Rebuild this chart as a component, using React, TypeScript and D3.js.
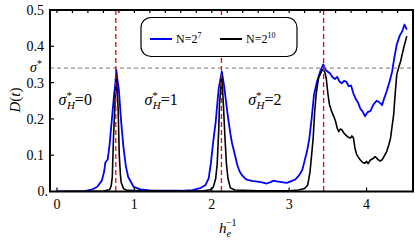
import * as d3 from "d3";

// h_e^{-1} and D(t)
const hBlue = [0, 0.35, 0.45, 0.52, 0.58, 0.61, 0.625, 0.655, 0.68, 0.71, 0.735, 0.755, 0.767, 0.78, 0.8, 0.83, 0.86, 0.89, 0.92, 0.99, 1.08, 1.2, 1.6, 1.75, 1.85, 1.92, 1.96, 1.99, 2.02, 2.05, 2.09, 2.13, 2.16, 2.18, 2.2, 2.22, 2.24, 2.26, 2.3, 2.33, 2.36, 2.39, 2.43, 2.46, 2.52, 2.59, 2.65, 2.71, 2.76, 2.8, 2.84, 2.9, 2.97, 3.02, 3.08, 3.13, 3.17, 3.2, 3.23, 3.26, 3.29, 3.32, 3.36, 3.4, 3.44, 3.47, 3.5, 3.53, 3.56, 3.59, 3.62, 3.65, 3.68, 3.71, 3.74, 3.77, 3.8, 3.83, 3.86, 3.89, 3.92, 3.95, 3.98, 4.01, 4.05, 4.09, 4.13, 4.17, 4.2, 4.23, 4.26, 4.3, 4.33, 4.36, 4.39, 4.43, 4.46, 4.49, 4.52];
const dBlue = [0, 0.001, 0.005, 0.013, 0.03, 0.055, 0.08, 0.088, 0.13, 0.2, 0.26, 0.3, 0.335, 0.31, 0.28, 0.19, 0.12, 0.07, 0.04, 0.013, 0.006, 0.003, 0.002, 0.004, 0.009, 0.018, 0.036, 0.08, 0.14, 0.19, 0.285, 0.33, 0.29, 0.255, 0.22, 0.19, 0.16, 0.135, 0.1, 0.073, 0.055, 0.045, 0.036, 0.032, 0.029, 0.027, 0.025, 0.022, 0.026, 0.03, 0.028, 0.026, 0.024, 0.028, 0.033, 0.045, 0.06, 0.085, 0.11, 0.145, 0.2, 0.265, 0.303, 0.33, 0.35, 0.335, 0.33, 0.325, 0.315, 0.31, 0.316, 0.303, 0.298, 0.305, 0.302, 0.29, 0.292, 0.27, 0.255, 0.245, 0.228, 0.22, 0.207, 0.218, 0.222, 0.24, 0.25, 0.245, 0.238, 0.258, 0.276, 0.305, 0.33, 0.37, 0.405, 0.43, 0.441, 0.46, 0.446];

const hBlack = [0, 0.6, 0.68, 0.7, 0.715, 0.73, 0.745, 0.755, 0.767, 0.78, 0.79, 0.805, 0.82, 0.83, 0.86, 0.9, 1.2, 1.9, 1.98, 2.02, 2.05, 2.07, 2.09, 2.1, 2.13, 2.15, 2.17, 2.19, 2.21, 2.24, 2.3, 2.6, 3.0, 3.12, 3.2, 3.24, 3.27, 3.29, 3.31, 3.33, 3.35, 3.38, 3.43, 3.46, 3.48, 3.5, 3.52, 3.55, 3.58, 3.6, 3.62, 3.64, 3.66, 3.68, 3.71, 3.73, 3.76, 3.79, 3.81, 3.83, 3.85, 3.87, 3.9, 3.92, 3.95, 3.98, 4.0, 4.02, 4.05, 4.08, 4.11, 4.14, 4.17, 4.2, 4.23, 4.26, 4.29, 4.31, 4.33, 4.35, 4.37, 4.39, 4.42, 4.44, 4.48, 4.52];
const dBlack = [0, 0.001, 0.005, 0.015, 0.04, 0.147, 0.22, 0.27, 0.322, 0.27, 0.23, 0.1, 0.045, 0.025, 0.008, 0.003, 0.001, 0.002, 0.005, 0.012, 0.035, 0.075, 0.17, 0.24, 0.322, 0.24, 0.15, 0.075, 0.035, 0.01, 0.004, 0.002, 0.002, 0.004, 0.008, 0.018, 0.055, 0.1, 0.147, 0.22, 0.27, 0.313, 0.336, 0.33, 0.31, 0.27, 0.24, 0.22, 0.205, 0.193, 0.175, 0.165, 0.172, 0.17, 0.16, 0.156, 0.15, 0.147, 0.153, 0.148, 0.12, 0.103, 0.092, 0.087, 0.08, 0.078, 0.083, 0.077, 0.087, 0.09, 0.096, 0.09, 0.084, 0.087, 0.098, 0.11, 0.13, 0.147, 0.18, 0.211, 0.27, 0.322, 0.345, 0.359, 0.396, 0.428];

const xTicks = [0, 1, 2, 3, 4];
const yTicks = [0.1, 0.2, 0.3, 0.4, 0.5];
const transitions = [0.76, 2.125, 3.445];
const sigmaStar = 0.34;
const regionLabels = ["0", "1", "2"];
const regionX = [0.02, 1.13, 2.47];

const W = 415;
const H = 241;
const m = { left: 50, right: 2, top: 10, bottom: 49.5 };
const font = "'Liberation Serif', 'Times New Roman', serif";

export default function App() {
  const x = d3.scaleLinear().domain([-0.09, 4.6]).range([m.left, W - m.right]);
  const y = d3.scaleLinear().domain([0, 0.5]).range([H - m.bottom, m.top]);

  const line = (hs: number[], ds: number[]) =>
    d3
      .line<number>()
      .x((_, i) => x(hs[i]))
      .y((_, i) => y(ds[i]))(hs) || "";

  const minorTop = d3.range(0, 4.61, 0.2);
  const x0 = x.range()[0];
  const x1 = x.range()[1];
  const y0 = y.range()[0];
  const y1 = y.range()[1];

  return (
    <svg
      width={W}
      height={H}
      style={{ position: "absolute", left: 0, top: 0, fontFamily: font }}
    >
      <defs>
        <clipPath id="plot">
          <rect x={x0} y={y1} width={x1 - x0} height={y0 - y1} />
        </clipPath>
      </defs>

      {/* curves */}
      <g clipPath="url(#plot)" fill="none" strokeLinejoin="round">
        <path d={line(hBlue, dBlue)} stroke="#0000ff" strokeWidth={1.8} />
        <path d={line(hBlack, dBlack)} stroke="#000" strokeWidth={1.6} />
      </g>

      {/* sigma* reference */}
      <line
        x1={x0}
        x2={x1}
        y1={y(sigmaStar)}
        y2={y(sigmaStar)}
        stroke="#777"
        strokeWidth={1}
        strokeDasharray="4,3"
      />
      {transitions.map((t) => (
        <line
          key={t}
          x1={x(t)}
          x2={x(t)}
          y1={y1}
          y2={y0}
          stroke="#ff0000"
          strokeWidth={1.3}
          strokeDasharray="5,3"
        />
      ))}

      {/* region labels */}
      {regionLabels.map((lab, i) => (
        <text key={lab} x={x(regionX[i])} y={105} fontSize={16}>
          <tspan fontStyle="italic">σ</tspan>
          <tspan fontSize={11} dy={-6}>*</tspan>
          <tspan fontSize={11} fontStyle="italic" dx={-5} dy={10}>H</tspan>
          <tspan dy={-4}>={lab}</tspan>
        </text>
      ))}

      {/* legend */}
      <rect x={141} y={17.5} width={156} height={39} rx={10} fill="#fff" stroke="#000" strokeWidth={1.2} />
      <line x1={150} x2={172} y1={39} y2={39} stroke="#0000ff" strokeWidth={2} />
      <text x={176} y={43} fontSize={12}>
        N=2<tspan fontSize={8} dy={-5}>7</tspan>
      </text>
      <line x1={220} x2={242} y1={39} y2={39} stroke="#000" strokeWidth={2} />
      <text x={246} y={43} fontSize={12}>
        N=2<tspan fontSize={8} dy={-5}>10</tspan>
      </text>

      {/* frame */}
      <rect x={x0} y={y1} width={x1 - x0} height={y0 - y1} fill="none" stroke="#000" strokeWidth={2} />

      {/* top minor ticks */}
      {minorTop.map((t) => (
        <line key={t} x1={x(t)} x2={x(t)} y1={y1} y2={y1 + 3} stroke="#000" strokeWidth={1.2} />
      ))}
      {/* bottom ticks */}
      {xTicks.map((t) => (
        <g key={t}>
          <line x1={x(t)} x2={x(t)} y1={y0} y2={y0 - 4} stroke="#000" strokeWidth={1.2} />
          <text x={x(t)} y={209} fontSize={14} textAnchor="middle">
            {t}
          </text>
        </g>
      ))}
      {/* left ticks */}
      {yTicks.map((t) => (
        <g key={t}>
          <line x1={x0} x2={x0 + 4} y1={y(t)} y2={y(t)} stroke="#000" strokeWidth={1.2} />
          <text x={44} y={y(t) + 5} fontSize={14} textAnchor="end">
            {t.toFixed(1)}
          </text>
        </g>
      ))}
      <text x={48} y={196} fontSize={14} textAnchor="end">
        0.
      </text>
      <text x={30} y={72} fontSize={14}>
        <tspan fontStyle="italic">σ</tspan>
        <tspan fontSize={10} dy={-5}>*</tspan>
      </text>

      {/* axis titles */}
      <text x={219} y={233} fontSize={15}>
        <tspan fontStyle="italic">h</tspan>
        <tspan fontSize={10} fontStyle="italic" dy={4}>e</tspan>
        <tspan fontSize={10} dx={-5} dy={-11}>−1</tspan>
      </text>
      <text transform="translate(20,100) rotate(-90)" fontSize={15} textAnchor="middle">
        <tspan fontStyle="italic">D</tspan>(<tspan fontStyle="italic">t</tspan>)
      </text>
    </svg>
  );
}
